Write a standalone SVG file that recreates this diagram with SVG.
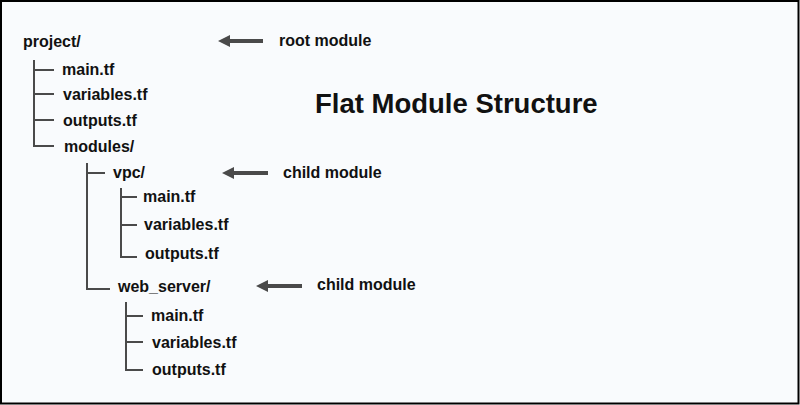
<svg xmlns="http://www.w3.org/2000/svg" width="800" height="405" viewBox="0 0 800 405">
<defs>
<style>
.t{font-family:"Liberation Sans",Arial,sans-serif;font-weight:bold;font-size:16px;fill:#111}
.title{font-family:"Liberation Sans",Arial,sans-serif;font-weight:bold;font-size:27.5px;fill:#111}
.tree{stroke:#4a4a4a;stroke-width:2;fill:none}
.arr{stroke:#4a4a4a;stroke-width:4;fill:none}
.head{fill:#4a4a4a}
</style>
</defs>
<rect x="1" y="1" width="797.5" height="402.5" fill="#f9fbfd" stroke="#000" stroke-width="2"/>
<g id="title"><text class="title" x="315" y="113">Flat Module Structure</text></g>
<g id="connectors">
<path class="tree" d="M34 60V146H54M34 70H54M34 94H54M34 120H54"/>
<path class="tree" d="M87 163V289H110M87 173H105"/>
<path class="tree" d="M121 188V257H137M121 197H137M121 225H137"/>
<path class="tree" d="M126 302V370H143M126 316H143M126 342H143"/>
<g id="arrow-root"><path class="arr" d="M228 41H263"/><path class="head" d="M218 41L230 35V47Z"/></g>
<g id="arrow-vpc"><path class="arr" d="M232 173H268"/><path class="head" d="M222 173L234 167V179Z"/></g>
<g id="arrow-web"><path class="arr" d="M266 286H302"/><path class="head" d="M256 286L268 280V292Z"/></g>
</g>
<g id="project"><text class="t" x="23" y="47">project/</text></g>
<g id="root-main"><text class="t" x="62" y="75">main.tf</text></g>
<g id="root-variables"><text class="t" x="63" y="100">variables.tf</text></g>
<g id="root-outputs"><text class="t" x="63" y="126">outputs.tf</text></g>
<g id="modules"><text class="t" x="64" y="152">modules/</text></g>
<g id="vpc"><text class="t" x="113" y="178">vpc/</text></g>
<g id="vpc-main"><text class="t" x="143" y="202">main.tf</text></g>
<g id="vpc-variables"><text class="t" x="144" y="230">variables.tf</text></g>
<g id="vpc-outputs"><text class="t" x="145" y="259">outputs.tf</text></g>
<g id="web_server"><text class="t" x="118" y="292">web_server/</text></g>
<g id="web-main"><text class="t" x="151" y="321">main.tf</text></g>
<g id="web-variables"><text class="t" x="152" y="348">variables.tf</text></g>
<g id="web-outputs"><text class="t" x="152" y="375">outputs.tf</text></g>
<g id="label-root"><text class="t" x="279" y="46">root module</text></g>
<g id="label-vpc"><text class="t" x="283" y="178">child module</text></g>
<g id="label-web"><text class="t" x="317" y="290">child module</text></g>
</svg>
